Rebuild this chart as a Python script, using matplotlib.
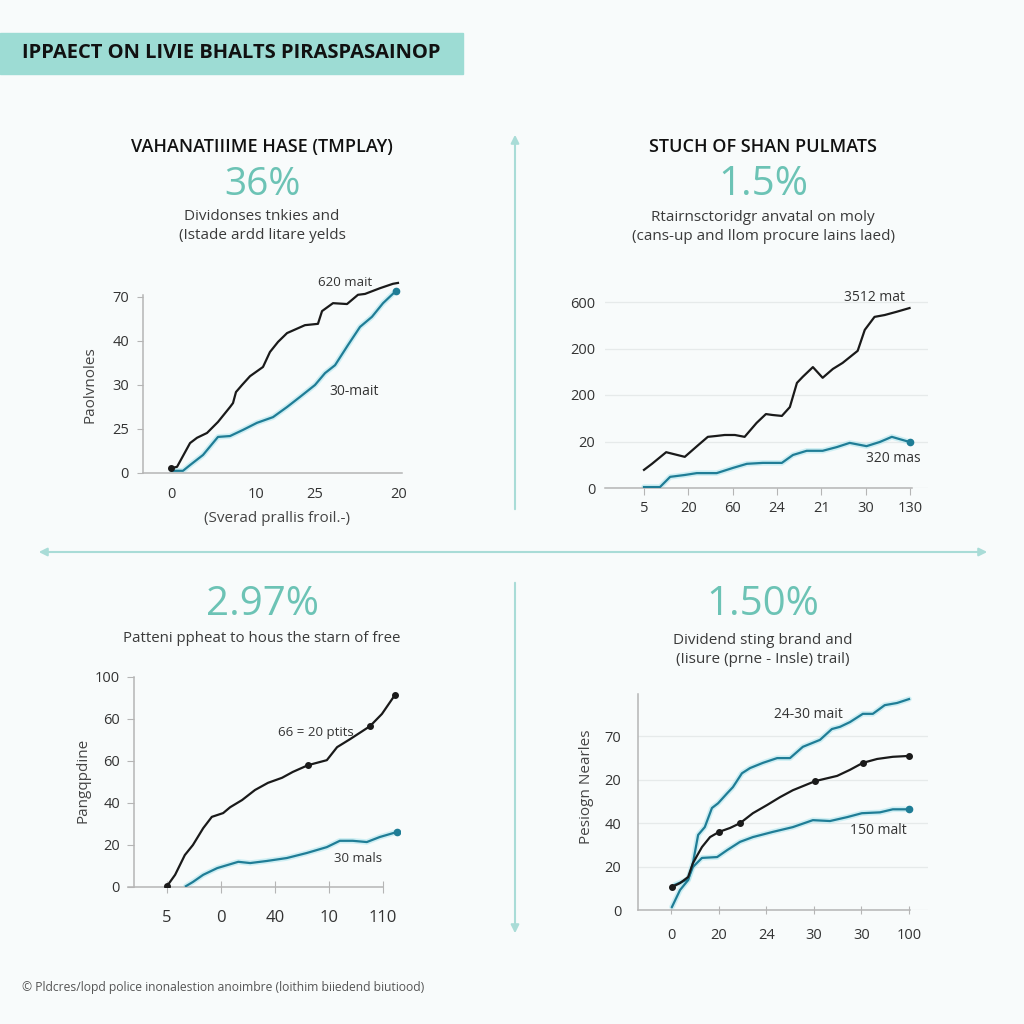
import matplotlib
matplotlib.use("Agg")
import matplotlib.pyplot as plt
from matplotlib.patches import Rectangle, FancyArrowPatch

plt.rcParams['font.family'] = ['Open Sans', 'DejaVu Sans']

W = H = 1024
BG = '#f8fbfb'
TEAL_TXT = '#6cc3b5'
TEAL_LINE = '#1f7d96'
GLOW = '#a6e3ec'
DARK = '#1a1a1a'
GRAY = '#333333'
SPINE = '#b5b5b5'
DIVIDER = '#a9dcd7'

# ---- data ----
title = "IPPAECT ON LIVIE BHALTS PIRASPASAINOP"
footer = "\u00a9 Pldcres/lopd police inonalestion anoimbre (loithim biiedend biutiood)"

# panel 1
p1_title = "VAHANATIIIME HASE (TMPLAY)"
p1_value = "36%"
p1_sub = "Dividonses tnkies and\n(Istade ardd litare yelds"
p1_ylabel = "Paolvnoles"
p1_xlabel = "(Sverad prallis froil.-)"
p1_yticks = [0, 1, 2, 3, 4]
p1_yticklabels = ["0", "25", "30", "40", "70"]
p1_xticks = [0, 7.5, 12.6, 20]
p1_xticklabels = ["0", "10", "25", "20"]
p1_black_x = [0, 0.53, 1.67, 2.28, 3.16, 4.12, 5.18, 5.44, 5.70, 6.23, 6.93, 8.07, 8.68,
              9.39, 10.18, 11.75, 12.89, 13.25, 14.21, 15.44, 16.40, 17.02, 18.33, 19.47, 19.91]
p1_black_y = [0.11, 0.14, 0.68, 0.80, 0.91, 1.16, 1.50, 1.59, 1.84, 2.0, 2.2, 2.41, 2.75,
              2.98, 3.18, 3.36, 3.39, 3.68, 3.86, 3.84, 4.05, 4.07, 4.20, 4.30, 4.32]
p1_teal_x = [0.09, 1.05, 1.67, 2.81, 4.12, 5.18, 6.32, 7.54, 8.95, 10.18, 11.32, 12.63,
             13.51, 14.39, 15.53, 16.58, 17.63, 18.6, 19.74]
p1_teal_y = [0.05, 0.05, 0.18, 0.41, 0.82, 0.84, 0.98, 1.14, 1.27, 1.5, 1.73, 2.0,
             2.27, 2.45, 2.91, 3.32, 3.55, 3.86, 4.14]
p1_black_note = "620 mait"
p1_teal_note = "30-mait"

# panel 2
p2_title = "STUCH OF SHAN PULMATS"
p2_value = "1.5%"
p2_sub = "Rtairnsctoridgr anvatal on moly\n(cans-up and llom procure lains laed)"
p2_yticks = [0, 1, 2, 3, 4]
p2_yticklabels = ["0", "20", "200", "200", "600"]
p2_xticks = [0, 1, 2, 3, 4, 5, 6]
p2_xticklabels = ["5", "20", "60", "24", "21", "30", "130"]
p2_black_x = [0, 0.18, 0.5, 0.92, 1.22, 1.44, 1.64, 1.82, 2.05, 2.27, 2.54, 2.75, 2.9, 3.11,
              3.29, 3.45, 3.58, 3.81, 4.03, 4.26, 4.48, 4.82, 4.98, 5.2, 5.43, 5.7, 5.99]
p2_black_y = [0.39, 0.52, 0.77, 0.67, 0.92, 1.10, 1.12, 1.14, 1.14, 1.10, 1.40, 1.59, 1.57,
              1.55, 1.74, 2.26, 2.39, 2.6, 2.37, 2.56, 2.69, 2.95, 3.4, 3.68, 3.72, 3.79, 3.87]
p2_teal_x = [0, 0.18, 0.36, 0.59, 0.92, 1.19, 1.64, 2.0, 2.32, 2.68, 3.11, 3.36, 3.67, 4.03,
             4.35, 4.64, 5.02, 5.32, 5.59, 5.99]
p2_teal_y = [0.02, 0.02, 0.02, 0.24, 0.28, 0.32, 0.32, 0.43, 0.52, 0.54, 0.54, 0.71, 0.80,
             0.80, 0.88, 0.97, 0.9, 0.99, 1.10, 0.99]
p2_black_note = "3512 mat"
p2_teal_note = "320 mas"

# panel 3
p3_value = "2.97%"
p3_sub = "Patteni ppheat to hous the starn of free"
p3_ylabel = "Pangqpdine"
p3_yticks = [0, 1, 2, 3, 4, 5]
p3_yticklabels = ["0", "20", "40", "60", "60", "100"]
p3_xticks = [0, 1, 2, 3, 4]
p3_xticklabels = ["5", "0", "40", "10", "110"]
p3_black_x = [0, 0.15, 0.33, 0.48, 0.67, 0.83, 1.04, 1.17, 1.39, 1.63, 1.87, 2.13, 2.33,
              2.61, 2.96, 3.15, 3.39, 3.76, 3.98, 4.22]
p3_black_y = [0.02, 0.29, 0.76, 1.0, 1.40, 1.67, 1.76, 1.90, 2.07, 2.31, 2.48, 2.60, 2.74,
              2.90, 3.02, 3.33, 3.52, 3.83, 4.12, 4.57]
p3_teal_x = [0.35, 0.48, 0.67, 0.93, 1.32, 1.54, 1.85, 2.22, 2.59, 2.96, 3.20, 3.44, 3.70,
             3.94, 4.26]
p3_teal_y = [0.02, 0.12, 0.29, 0.45, 0.60, 0.57, 0.62, 0.69, 0.81, 0.95, 1.10, 1.10, 1.07,
             1.19, 1.31]
p3_black_note = "66 = 20 ptits"
p3_teal_note = "30 mals"

# panel 4
p4_value = "1.50%"
p4_sub = "Dividend sting brand and\n(Iisure (prne - Insle) trail)"
p4_ylabel = "Pesiogn Nearles"
p4_yticks = [0, 1, 2, 3, 4]
p4_yticklabels = ["0", "20", "40", "20", "70"]
p4_xticks = [0, 1, 2, 3, 4, 5]
p4_xticklabels = ["0", "20", "24", "30", "30", "100"]
p4_upper_x = [0.02, 0.19, 0.36, 0.46, 0.57, 0.71, 0.86, 0.99, 1.18, 1.30, 1.49, 1.66, 1.93,
              2.23, 2.50, 2.77, 3.13, 3.38, 3.55, 3.76, 4.03, 4.24, 4.49, 4.75, 5.0]
p4_upper_y = [0.07, 0.46, 0.69, 1.08, 1.73, 1.91, 2.35, 2.46, 2.69, 2.83, 3.15, 3.27, 3.39,
              3.50, 3.50, 3.76, 3.92, 4.17, 4.22, 4.33, 4.52, 4.52, 4.72, 4.77, 4.86]
p4_black_x = [0.02, 0.19, 0.36, 0.46, 0.65, 0.82, 1.01, 1.24, 1.45, 1.72, 2.02, 2.29, 2.56,
              3.03, 3.49, 3.76, 4.03, 4.33, 4.66, 5.0]
p4_black_y = [0.53, 0.62, 0.76, 1.08, 1.45, 1.68, 1.80, 1.89, 2.00, 2.23, 2.42, 2.60, 2.76,
              2.97, 3.09, 3.23, 3.39, 3.48, 3.53, 3.55]
p4_lower_x = [0.08, 0.36, 0.46, 0.65, 0.97, 1.18, 1.45, 1.72, 2.14, 2.56, 2.98, 3.34, 3.70,
              4.01, 4.39, 4.66, 5.0]
p4_lower_y = [0.58, 0.71, 0.99, 1.20, 1.22, 1.38, 1.57, 1.68, 1.80, 1.91, 2.07, 2.05, 2.14,
              2.23, 2.25, 2.32, 2.32]
p4_upper_note = "24-30 mait"
p4_lower_note = "150 malt"


fig = plt.figure(figsize=(10.24, 10.24), dpi=100, facecolor=BG)


def fx(px):
    return px / W


def fy(py):
    return 1 - py / H


def make_axes(box, x0, xs, y0, ys):
    # box = (left, top, right, bottom) in pixels; x0/y0 = pixel of data 0, xs/ys = px per unit
    l, t, r, b = box
    ax = fig.add_axes([fx(l), fy(b), (r - l) / W, (b - t) / H])
    ax.set_facecolor('none')
    ax.set_xlim((l - x0) / xs, (r - x0) / xs)
    ax.set_ylim((y0 - b) / ys, (y0 - t) / ys)
    for s in ['top', 'right']:
        ax.spines[s].set_visible(False)
    for s in ['left', 'bottom']:
        ax.spines[s].set_color(SPINE)
        ax.spines[s].set_linewidth(1.1)
    ax.tick_params(colors=SPINE, labelcolor=GRAY, labelsize=10.5)
    return ax


def teal_line(ax, x, y, **kw):
    ax.plot(x, y, color=GLOW, lw=4, alpha=0.5, solid_capstyle='round', zorder=2)
    ax.plot(x, y, color=TEAL_LINE, lw=1.6, zorder=3, **kw)


def black_line(ax, x, y, **kw):
    ax.plot(x, y, color=DARK, lw=1.6, zorder=4, **kw)


# ---- banner ----
fig.patches.append(Rectangle((0, fy(74)), fx(463), (74 - 33) / H,
                             transform=fig.transFigure, color='#9ddcd4', zorder=0))
fig.text(fx(22), fy(53), title, fontsize=14.5, fontweight='bold', color='#111111',
         ha='left', va='center')

# ---- dividers ----
arrow_kw = dict(transform=fig.transFigure, color=DIVIDER, lw=1.5,
                mutation_scale=12)
fig.patches.append(FancyArrowPatch((fx(515), fy(512)), (fx(515), fy(132)),
                                   arrowstyle='-|>', **arrow_kw))
fig.patches.append(FancyArrowPatch((fx(515), fy(580)), (fx(515), fy(936)),
                                   arrowstyle='-|>', **arrow_kw))
fig.patches.append(FancyArrowPatch((fx(36), fy(552)), (fx(990), fy(552)),
                                   arrowstyle='<|-|>', **arrow_kw))

# ---- headers ----
fig.text(fx(262), fy(147), p1_title, fontsize=13, fontweight='semibold', color='#111111',
         ha='center', va='center')
fig.text(fx(262), fy(185), p1_value, fontsize=28, fontweight='medium', color=TEAL_TXT,
         ha='center', va='center')
fig.text(fx(262), fy(226), p1_sub, fontsize=11, color='#3a3a3a', ha='center', va='center',
         linespacing=1.3)

fig.text(fx(763), fy(147), p2_title, fontsize=13, fontweight='semibold', color='#111111',
         ha='center', va='center')
fig.text(fx(763), fy(185), p2_value, fontsize=29, fontweight='medium', color=TEAL_TXT,
         ha='center', va='center')
fig.text(fx(763), fy(227), p2_sub, fontsize=11, color='#3a3a3a', ha='center', va='center',
         linespacing=1.3)

fig.text(fx(262), fy(605), p3_value, fontsize=29, fontweight='medium', color=TEAL_TXT,
         ha='center', va='center')
fig.text(fx(262), fy(638), p3_sub, fontsize=10.8, color='#3a3a3a', ha='center', va='center')

fig.text(fx(763), fy(605), p4_value, fontsize=29, fontweight='medium', color=TEAL_TXT,
         ha='center', va='center')
fig.text(fx(763), fy(650), p4_sub, fontsize=11, color='#3a3a3a', ha='center', va='center',
         linespacing=1.3)

fig.text(fx(22), fy(988), footer, fontsize=8.7, color='#555555', ha='left', va='center')

# ---- chart 1 ----
ax1 = make_axes((143, 278, 402, 473), 171, 11.4, 473, 44)
ax1.spines['left'].set_bounds(0, 4.05)
black_line(ax1, p1_black_x, p1_black_y, marker='o', ms=4, markevery=[0])
teal_line(ax1, p1_teal_x, p1_teal_y, marker='o', ms=4.5, markevery=[-1])
ax1.set_yticks(p1_yticks, p1_yticklabels)
ax1.set_xticks(p1_xticks, p1_xticklabels)
ax1.tick_params(axis='y', length=4, pad=6)
ax1.tick_params(axis='x', length=0, pad=10)
ax1.text(15.3, 4.32, p1_black_note, fontsize=9.5, color=GRAY, ha='center', va='center')
ax1.text(16.1, 1.85, p1_teal_note, fontsize=10, color=GRAY, ha='center', va='center')
fig.text(fx(90), fy(385), p1_ylabel, fontsize=11, color='#444444', rotation=90,
         ha='center', va='center')
fig.text(fx(277), fy(518), p1_xlabel, fontsize=11, color='#444444', ha='center', va='center')

# ---- chart 2 ----
ax2 = make_axes((605, 295, 928, 488), 644, 44.33, 488, 46.5)
ax2.spines['left'].set_visible(False)
ax2.spines['bottom'].set_bounds((605 - 644) / 44.33, 6.05)
ax2.set_yticks(p2_yticks, p2_yticklabels)
ax2.set_xticks(p2_xticks, p2_xticklabels)
ax2.grid(axis='y', color='#e6eaea', lw=0.9)
ax2.set_axisbelow(True)
ax2.tick_params(axis='y', length=0, pad=7)
ax2.tick_params(axis='x', length=5, pad=4)
black_line(ax2, p2_black_x, p2_black_y)
teal_line(ax2, p2_teal_x, p2_teal_y, marker='o', ms=4.5, markevery=[-1])
ax2.text(5.2, 4.1, p2_black_note, fontsize=10, color=GRAY, ha='center', va='center')
ax2.text(5.62, 0.64, p2_teal_note, fontsize=10, color=GRAY, ha='center', va='center')

# ---- chart 3 ----
ax3 = make_axes((134, 675, 400, 887), 167, 54, 887, 42)
ax3.spines['left'].set_bounds(0, 5)
ax3.spines['bottom'].set_bounds((128 - 167) / 54, 4.0)
ax3.spines['bottom'].set_clip_on(False)
ax3.set_yticks(p3_yticks, p3_yticklabels)
ax3.set_xticks(p3_xticks, p3_xticklabels)
ax3.tick_params(axis='y', length=5, pad=5)
ax3.tick_params(axis='x', direction='inout', length=9, pad=12, labelsize=12)
black_line(ax3, p3_black_x, p3_black_y, marker='o', ms=4, markevery=[0, 13, 17, 19])
teal_line(ax3, p3_teal_x, p3_teal_y, marker='o', ms=4.5, markevery=[-1])
ax3.text(2.76, 3.67, p3_black_note, fontsize=9.5, color=GRAY, ha='center', va='center')
ax3.text(3.54, 0.69, p3_teal_note, fontsize=9.5, color=GRAY, ha='center', va='center')
fig.text(fx(83), fy(780), p3_ylabel, fontsize=11, color='#444444', rotation=90,
         ha='center', va='center')

# ---- chart 4 ----
ax4 = make_axes((638, 694, 928, 910), 671, 47.6, 910, 43.4)
ax4.spines['bottom'].set_bounds((638 - 671) / 47.6, 5.02)
ax4.set_yticks(p4_yticks, p4_yticklabels)
ax4.set_xticks(p4_xticks, p4_xticklabels)
ax4.grid(axis='y', color='#e6eaea', lw=0.9)
ax4.set_axisbelow(True)
ax4.tick_params(axis='y', length=0, pad=12)
ax4.tick_params(axis='x', direction='inout', length=6, pad=10)
teal_line(ax4, p4_upper_x, p4_upper_y)
black_line(ax4, p4_black_x, p4_black_y, marker='o', ms=4, markevery=[0, 6, 8, 13, 16, 19])
teal_line(ax4, p4_lower_x, p4_lower_y, marker='o', ms=4.5, markevery=[-1])
ax4.text(2.88, 4.5, p4_upper_note, fontsize=10, color=GRAY, ha='center', va='center')
ax4.text(4.35, 1.83, p4_lower_note, fontsize=10, color=GRAY, ha='center', va='center')
fig.text(fx(587), fy(787), p4_ylabel, fontsize=11, color='#444444', rotation=90,
         ha='center', va='center')

fig.savefig("out.png", dpi=100, facecolor=BG)
